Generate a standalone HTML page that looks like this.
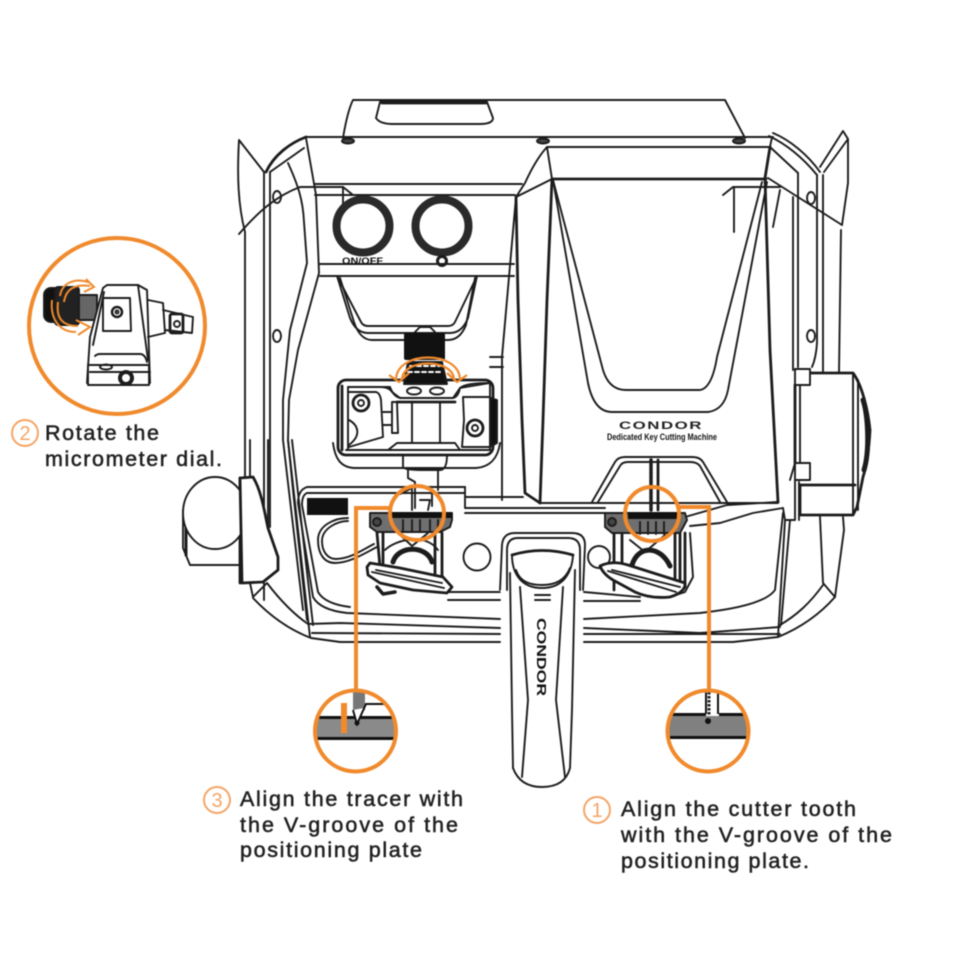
<!DOCTYPE html>
<html><head><meta charset="utf-8"><style>
html,body{margin:0;padding:0;background:#fff;width:960px;height:960px;overflow:hidden}
svg{display:block;filter:blur(.5px)}
.l{fill:none;stroke:#1c1c1c;stroke-width:1.9;stroke-linejoin:round;stroke-linecap:round}
.t{stroke-width:2.8}.f{fill:#fff}.o{fill:none;stroke:#f08a2c;stroke-width:4}
text{font-family:"Liberation Sans",sans-serif;font-weight:bold;fill:#222;font-size:20px}
.b{font-size:21.5px;font-weight:normal;stroke:#222;stroke-width:.55px}
</style></head><body>
<svg width="960" height="960" viewBox="0 0 960 960" xmlns="http://www.w3.org/2000/svg">
<defs>
<clipPath id="c1"><circle cx="355.500" cy="731" r="40"/></clipPath>
<clipPath id="c2"><circle cx="708" cy="731" r="40"/></clipPath>
</defs>
<!-- top unit -->
<g class="l">
<path d="M343 138C346 120 349 108 353 100H725L745 138"/>
<path d="M380 102H487M376 118C378 121 382 124 392 124H480C490 124 493 121 493 118L487 102M376 118L380 102" />
<path class="t" d="M382 103H486"/>
<path d="M305 137H773"/>
<path d="M547 147H770"/>
<path class="t" d="M552 179H766"/>
<ellipse cx="348" cy="141" rx="6" ry="2.500" fill="#444"/><ellipse cx="543" cy="141" rx="6" ry="2.500" fill="#444"/><ellipse cx="739" cy="141" rx="6" ry="2.500" fill="#444"/>
<!-- left corner -->
<path class="t" d="M306 137C290 143 274 155 266 172"/>
<path d="M304 148L270 172"/>
<path d="M239 140L264 172M239 140C237 175 238 205 245 232V478"/>
<path d="M239 234C258 212 276 196 300 187H343L353 195"/>
<path d="M343 187V206"/>
<path d="M264 172V600M270 172V527"/>
<ellipse cx="277" cy="197" rx="4" ry="6"/><ellipse cx="277" cy="336" rx="4" ry="6"/>
<path d="M288 163C298 185 303 200 304 222L307 263L290 330L283 400V440L290 500L303 610"/>
<path d="M306 138L316 195L319 273L298 350L289 400L288 440L294 500L307 620"/>
<path d="M315 184H522M315 195H515M320 264H514M320 276H514"/>
<!-- buttons -->
<circle cx="363" cy="226" r="26.500" stroke-width="8" stroke="#2a2a2a"/>
<circle cx="442" cy="226" r="26.500" stroke-width="8" stroke="#2a2a2a"/>
<circle cx="442" cy="261" r="4.500" stroke-width="3"/>
<!-- bracket -->
<path d="M337 276L361 322Q363 326 368 326H448Q453 326 455 322L477 276"/>
<path d="M340 278L354 322Q360 340 372 340H448Q460 340 466 325L475 278"/>
<path d="M337 276L350 318Q356 333 368 333H450Q462 333 468 318L477 276"/>
<!-- right cover -->
<path d="M547 147C537 158 530 172 525 183L516 197L552 179L547 147"/>
<path class="t" d="M516 197L518 300L522 420L525 493L540 503"/>
<path d="M516 197L502 357V500M503 357H490"/>
<path d="M503 367H490"/>
<path class="t" d="M552 179L547 300L543 420L540 503"/>
<path d="M553 180L603 370Q609 390 626 390H700Q712 388 717 357L762 182"/>
<path d="M553 180L588 383Q594 412 612 412H708Q724 410 728 390L767 182"/>
<path d="M723 195L733 187H780M734 187V232M780 190L773 227"/>
<path class="t" d="M770 147L765 178L770 350L778 502"/>
<path d="M772 137L770 147L798 173M773 133C790 140 808 155 820 172M769 136C788 145 803 158 817 175"/>
<path d="M820 167L843 131L848 139V183L842 225"/>
<path d="M824 172L848 139"/>
<path d="M768 178L842 225"/>
<path d="M798 173V367M793 197V370"/>
<path d="M817 175V343Q816 358 812 367M823 175V373M841 230L839 373"/>
<ellipse cx="811" cy="198" rx="4" ry="6"/><ellipse cx="811" cy="336" rx="4" ry="6"/>
<!-- right box -->
<path class="t f" d="M810 373H853C862 385 868 410 870 430C869 450 866 468 863 477L857 507L853 515H800V485"/>
<path d="M853 373V515M858 380V510"/>
<path class="t" d="M800 485H855"/>
<path d="M863 400C868 415 870 450 864 470" stroke-width="5"/>
<rect class="f" x="795" y="369" width="15" height="16"/>
<rect class="f" x="795" y="463" width="15" height="17"/>
<path class="t" d="M795 385V463"/>
<path d="M800 385V463M790 480L795 463M795 480V520H785L783 508M799 482V520"/>
<path d="M820 517L823 583M843 517L844 530L835 597L823 583"/>
<path d="M823 585C810 603 797 615 780 625M835 597C820 614 800 628 778 637L733 642"/>
<path d="M785 520L778 637M790 520L781 625"/>
<path d="M783 513L775 590Q764 606 700 613L584 619"/>
<path d="M780 627L700 633L584 628"/>
<path d="M783 508L753 513L720 523L690 526"/>
<!-- left knob -->
<path d="M183 510V548L190 565H240"/>
<path d="M186 520V555" stroke-width="3"/>
<path class="t" d="M240 478V583"/>
<ellipse class="f" cx="215" cy="513" rx="32" ry="36"/>
<path class="f t" d="M240 478L253 477C262 492 265 515 268 528L278 557V570L263 582L242 583Z"/>
<path d="M250 583L253 597L267 583M253 598C270 616 290 630 311 638L340 642L500 642M584 642H733M267 583C280 600 295 615 308 624L340 623L500 628"/>
<path d="M312 633L500 634M584 634H780"/>
<path d="M288 440L310 637M292 440L313 625M268 440V527M250 440V477"/>
<!-- tray -->
<path d="M465 487H307Q298 490 298 503L313 597Q320 610 347 613L500 619"/>
<path d="M465 493H307Q302 495 302 505L318 592Q325 604 350 607"/>
<path d="M465 487V507M465 497H523"/>
<rect x="307" y="498" width="41" height="17" fill="#111" stroke="none"/>
<path d="M348 518C335 518 318 525 318 540C318 555 325 563 335 563C350 563 365 553 377 547"/>
<path d="M348 521C338 521 322 528 322 541C322 552 328 559 336 559C350 559 362 550 374 544"/>
<path d="M465 508H605M465 513H605M685 517L727 505L778 502"/>
<path d="M540 503H778"/>
<path d="M448 592H500M448 600H500M584 592L640 597M584 601L640 601"/>
<circle cx="477" cy="557" r="13.500"/>
<!-- centre mech -->
<path class="f" d="M333 443C335 455 338 467 352 468H478C492 467 498 455 500 443V400H333Z" stroke="none"/>
<path d="M333 443C335 458 340 467 354 468H476C490 467 498 458 500 443"/>
<rect class="t f" x="338" y="380" width="155" height="75" rx="8"/>
<path class="t" d="M342 386V450"/>
<path d="M488 397L497 400V443L490 447" fill="#111"/>
<path class="f" d="M348 387H380Q389 387 392 392L400 398H453L460 388Q466 383 490 383V450H348Z"/>
<path d="M348 387H380L390 387Q394 398 402 398H452Q458 398 460 388L490 383"/>
<path d="M346 450H388L397 443H455L460 450H490"/>
<path class="t" d="M397 402H455"/>
<path d="M412 403V443M440 403V443M392 402H397L398 433H392ZM383 412H392V425H383"/>
<path d="M348 392H376Q380 393 381 400L383 437L349 447"/>
<path d="M349 420C358 425 362 435 349 445"/>
<circle cx="361" cy="403" r="8" stroke-width="2.800"/><circle cx="361" cy="403" r="3"/>
<path d="M463 397H490V447H462L464 420Z"/>
<circle cx="475" cy="428" r="8" stroke-width="2.800"/><circle cx="475" cy="428" r="3"/>
<rect x="404" y="333" width="41" height="27" rx="2" fill="#111" stroke="none"/>
<path d="M415 332L420 327H430L435 332" />
<path d="M408 362H442L447 384H404Z" fill="#111"/>
<path d="M410 366H440M408 372H442" stroke="#fff" stroke-dasharray="4 3"/>
<ellipse class="f" cx="414" cy="391" rx="7" ry="3.500"/><ellipse class="f" cx="437" cy="391" rx="7" ry="3.500"/>
<path d="M403 455V467Q404 470 420 470H440Q447 470 447 455"/>
<path d="M408 470V478L415 482V497M438 470V490M415 497V508M432 490V506"/>
<!-- mech left -->
<path class="t" d="M377 533L380 567M383 533V565M435 533V577M442 533V577"/>
<path d="M385 550C395 540 425 532 438 550"/>
<path d="M393 562C398 545 427 545 432 562" stroke-width="5"/>
<path d="M398 533L412 546L428 533"/>
<path d="M370 513H452V520L450 527L440 532H377L370 527Z" fill="#6f6f6f"/>
<rect x="392" y="512" width="60" height="6" fill="#111" stroke="none"/>
<circle cx="377" cy="522" r="4" fill="#444"/>
<path d="M403 520V532M412 520V532M420 520V532M430 520V532M438 520V532"/>
<path class="f t" d="M367 567L370 563L400 568L443 577L452 587L447 593L413 590L380 583L368 575Z"/>
<path d="M376 570L442 583M372 572L444 588"/>
<path d="M377 587L383 594L395 592" stroke-width="3.500"/>
<path d="M400 494L412 488V510M420 500H430L428 510"/>
<!-- mech right -->
<path class="t" d="M614 533V590M622 533V570M675 533V590M680 533V588M685 533V587"/>
<path d="M690 533L693 577L685 592L670 597"/>
<path d="M632 565C638 545 660 545 670 566" stroke-width="5"/>
<path d="M630 540L645 552L665 535"/>
<path d="M605 513H685L687 520L680 533H612L605 527Z" fill="#6f6f6f"/>
<rect x="628" y="512" width="50" height="7" fill="#111" stroke="none"/>
<circle cx="612" cy="522" r="4" fill="#444"/>
<path d="M640 522V534M648 522V534M656 522V534M664 522V534"/>
<circle class="f" cx="599" cy="557" r="11"/>
<path class="f t" d="M600 566Q612 560 628 565L685 583Q686 592 670 597Q650 599 635 592L613 580Q603 574 600 566Z"/>
<path d="M612 570L680 587M608 571L676 592"/>
<!-- trapezoid -->
<path d="M592 502L615 462Q618 457 625 457H692Q700 457 703 462L727 502"/>
<path d="M598 502L620 466Q622 462 628 462H690Q697 462 700 466L720 502"/>
<path d="M651 460V510" stroke-dasharray="2.500 1.500" stroke-width="3.500"/>
<path class="t" d="M658 460V510"/>
<!-- handle -->
<path class="f" d="M500 592V545Q500 533 514 533H572Q585 533 585 545L583 592H576L572 710L570 770Q565 787 542 787Q520 787 513 770L512 710L510 592Z" stroke="none"/>
<path d="M500 590L502 545Q503 533 515 533H572Q585 533 585 545L583 590"/>
<path d="M507 590V550Q507 538 518 538H568Q580 538 580 550V590"/>
<path class="t" d="M512 555Q542 546 573 555"/>
<path d="M512 555C512 572 520 588 542 588C564 588 572 572 573 555"/>
<path d="M516 570C520 582 530 585 542 585C556 585 565 580 570 568" />
<path d="M510 573L512 710L513 768M575 570L572 710L570 768"/>
<path d="M513 768Q520 787 542 787Q565 787 570 768"/>
<path d="M520 587L528 700L522 777M563 587L556 700L565 777"/>
<path d="M535 595H550M535 600H550" stroke-width="2"/>
</g>
<text x="619" y="429" textLength="84" lengthAdjust="spacingAndGlyphs" style="font-size:11px;letter-spacing:1px">CONDOR</text>
<text x="607" y="440" textLength="110" lengthAdjust="spacingAndGlyphs" style="font-size:9px;fill:#111">Dedicated Key Cutting Machine</text>
<text x="342" y="264" textLength="41" lengthAdjust="spacingAndGlyphs" style="font-size:9px;fill:#111">ON/OFF</text>
<text transform="translate(537 618) rotate(90)" textLength="78" lengthAdjust="spacingAndGlyphs" style="font-size:13px;fill:#111">CONDOR</text>

<!-- zoomed circles -->
<g clip-path="url(#c1)">
<rect x="310" y="718" width="90" height="20" fill="#8a8a8a"/>
<rect x="310" y="716" width="90" height="3" fill="#111"/><rect x="316" y="737" width="84" height="3" fill="#111"/>
<rect x="353" y="690" width="12" height="20" fill="#777"/>
<path d="M353 710L357 724L366 704H385" fill="#fff" stroke="#111" stroke-width="2"/>
<circle cx="357" cy="723" r="2.500" fill="#111"/>
</g>
<g clip-path="url(#c2)">
<rect x="664" y="714" width="90" height="22" fill="#808080"/>
<rect x="664" y="713" width="90" height="3" fill="#111"/><rect x="670" y="736" width="84" height="3" fill="#111"/>
<rect x="706" y="690" width="13" height="26" fill="#fff"/>
<path d="M706 692V714M718 692V714" stroke="#111" stroke-width="2"/>
<path d="M709 692V716" stroke="#222" stroke-width="3" stroke-dasharray="2.500 1.500"/>
<circle cx="708" cy="721" r="3" fill="#111"/>
</g>
<rect x="341" y="703" width="6" height="30" fill="#f08a2c"/>
<circle class="o" cx="355.500" cy="731" r="40.500"/>
<circle class="o" cx="708" cy="731" r="40.500"/>
<!-- orange leaders -->
<circle class="o" cx="417" cy="513" r="27"/>
<circle class="o" cx="652" cy="514" r="27"/>
<path class="o" d="M389 508H356V690"/>
<path class="o" d="M678 507H709V690"/>
<!-- orange arcs -->
<g fill="none" stroke="#f08a2c" stroke-width="2.200" stroke-linejoin="round">
<path d="M396 380C396 350 460 350 460 380M402 380C402 358 454 358 454 380"/>
<path d="M389 375L399 382L409 373M447 373L457 382L467 375"/>
</g>
<!-- inset -->
<circle cx="117" cy="326" r="88" fill="none" stroke="#f08a2c" stroke-width="4"/>
<g class="l">
<rect x="44" y="288" width="20" height="34" rx="7" fill="#111"/>
<rect x="55" y="287" width="24" height="38" rx="3" fill="#222"/>
<path d="M79 295H97V320H79Z" fill="#666"/>
<path d="M107 285H138L147 290L150 383H87L88 367L90 337L103 288Z" fill="#fff"/>
<path d="M103 298H130L131 331H103Z"/>
<circle cx="117" cy="312" r="5" stroke-width="2.500"/><circle cx="117" cy="312" r="1.500"/>
<path d="M138 285L148 360M93 345L104 292"/>
<path d="M148 300L163 303L165 333L148 337M163 310L193 317L192 333L165 330"/>
<rect x="170" y="314" width="13" height="19" rx="2" stroke-width="2.800"/>
<circle cx="177" cy="324" r="3"/>
<path d="M95 356Q97 354 100 354H140Q145 354 147 362"/>
<path d="M88 365H149V385H88Z" fill="#fff"/>
<path d="M90 372H150"/>
<circle cx="126" cy="378" r="6" stroke-width="4"/>
<ellipse cx="106" cy="367" rx="6" ry="2.500"/>
</g>
<g fill="none" stroke="#f08a2c" stroke-width="2">
<path d="M60 296C62 282 76 278 88 282M64 302C66 288 76 284 90 286"/>
<path d="M86 279L94 287L84 292"/>
<path d="M52 300C50 320 60 332 76 332M58 302C56 318 62 326 78 326"/>
<path d="M76 320L90 327L78 335"/>
</g>
<!-- number badges -->
<g fill="#fff" stroke="#f5a566" stroke-width="2"><circle cx="25" cy="433" r="13"/><circle cx="217" cy="800" r="13"/><circle cx="597" cy="810" r="13"/></g>
<g text-anchor="middle">
<text x="25" y="440" style="fill:#f5a566;font-weight:normal">2</text>
<text x="217" y="807" style="fill:#f5a566;font-weight:normal">3</text>
<text x="597" y="817" style="fill:#f5a566;font-weight:normal">1</text>
</g>
<!-- labels -->
<text class="b" x="45" y="440" textLength="114" lengthAdjust="spacing">Rotate the</text>
<text class="b" x="45" y="466" textLength="177" lengthAdjust="spacing">micrometer dial.</text>
<text class="b" x="240" y="806" textLength="223" lengthAdjust="spacing">Align the tracer with</text>
<text class="b" x="240" y="832" textLength="218" lengthAdjust="spacing">the V-groove of the</text>
<text class="b" x="240" y="857" textLength="182" lengthAdjust="spacing">positioning plate</text>
<text class="b" x="621" y="816" textLength="235" lengthAdjust="spacing">Align the cutter tooth</text>
<text class="b" x="621" y="842" textLength="271" lengthAdjust="spacing">with the V-groove of the</text>
<text class="b" x="621" y="868" textLength="188" lengthAdjust="spacing">positioning plate.</text>
</svg>
</body></html>
